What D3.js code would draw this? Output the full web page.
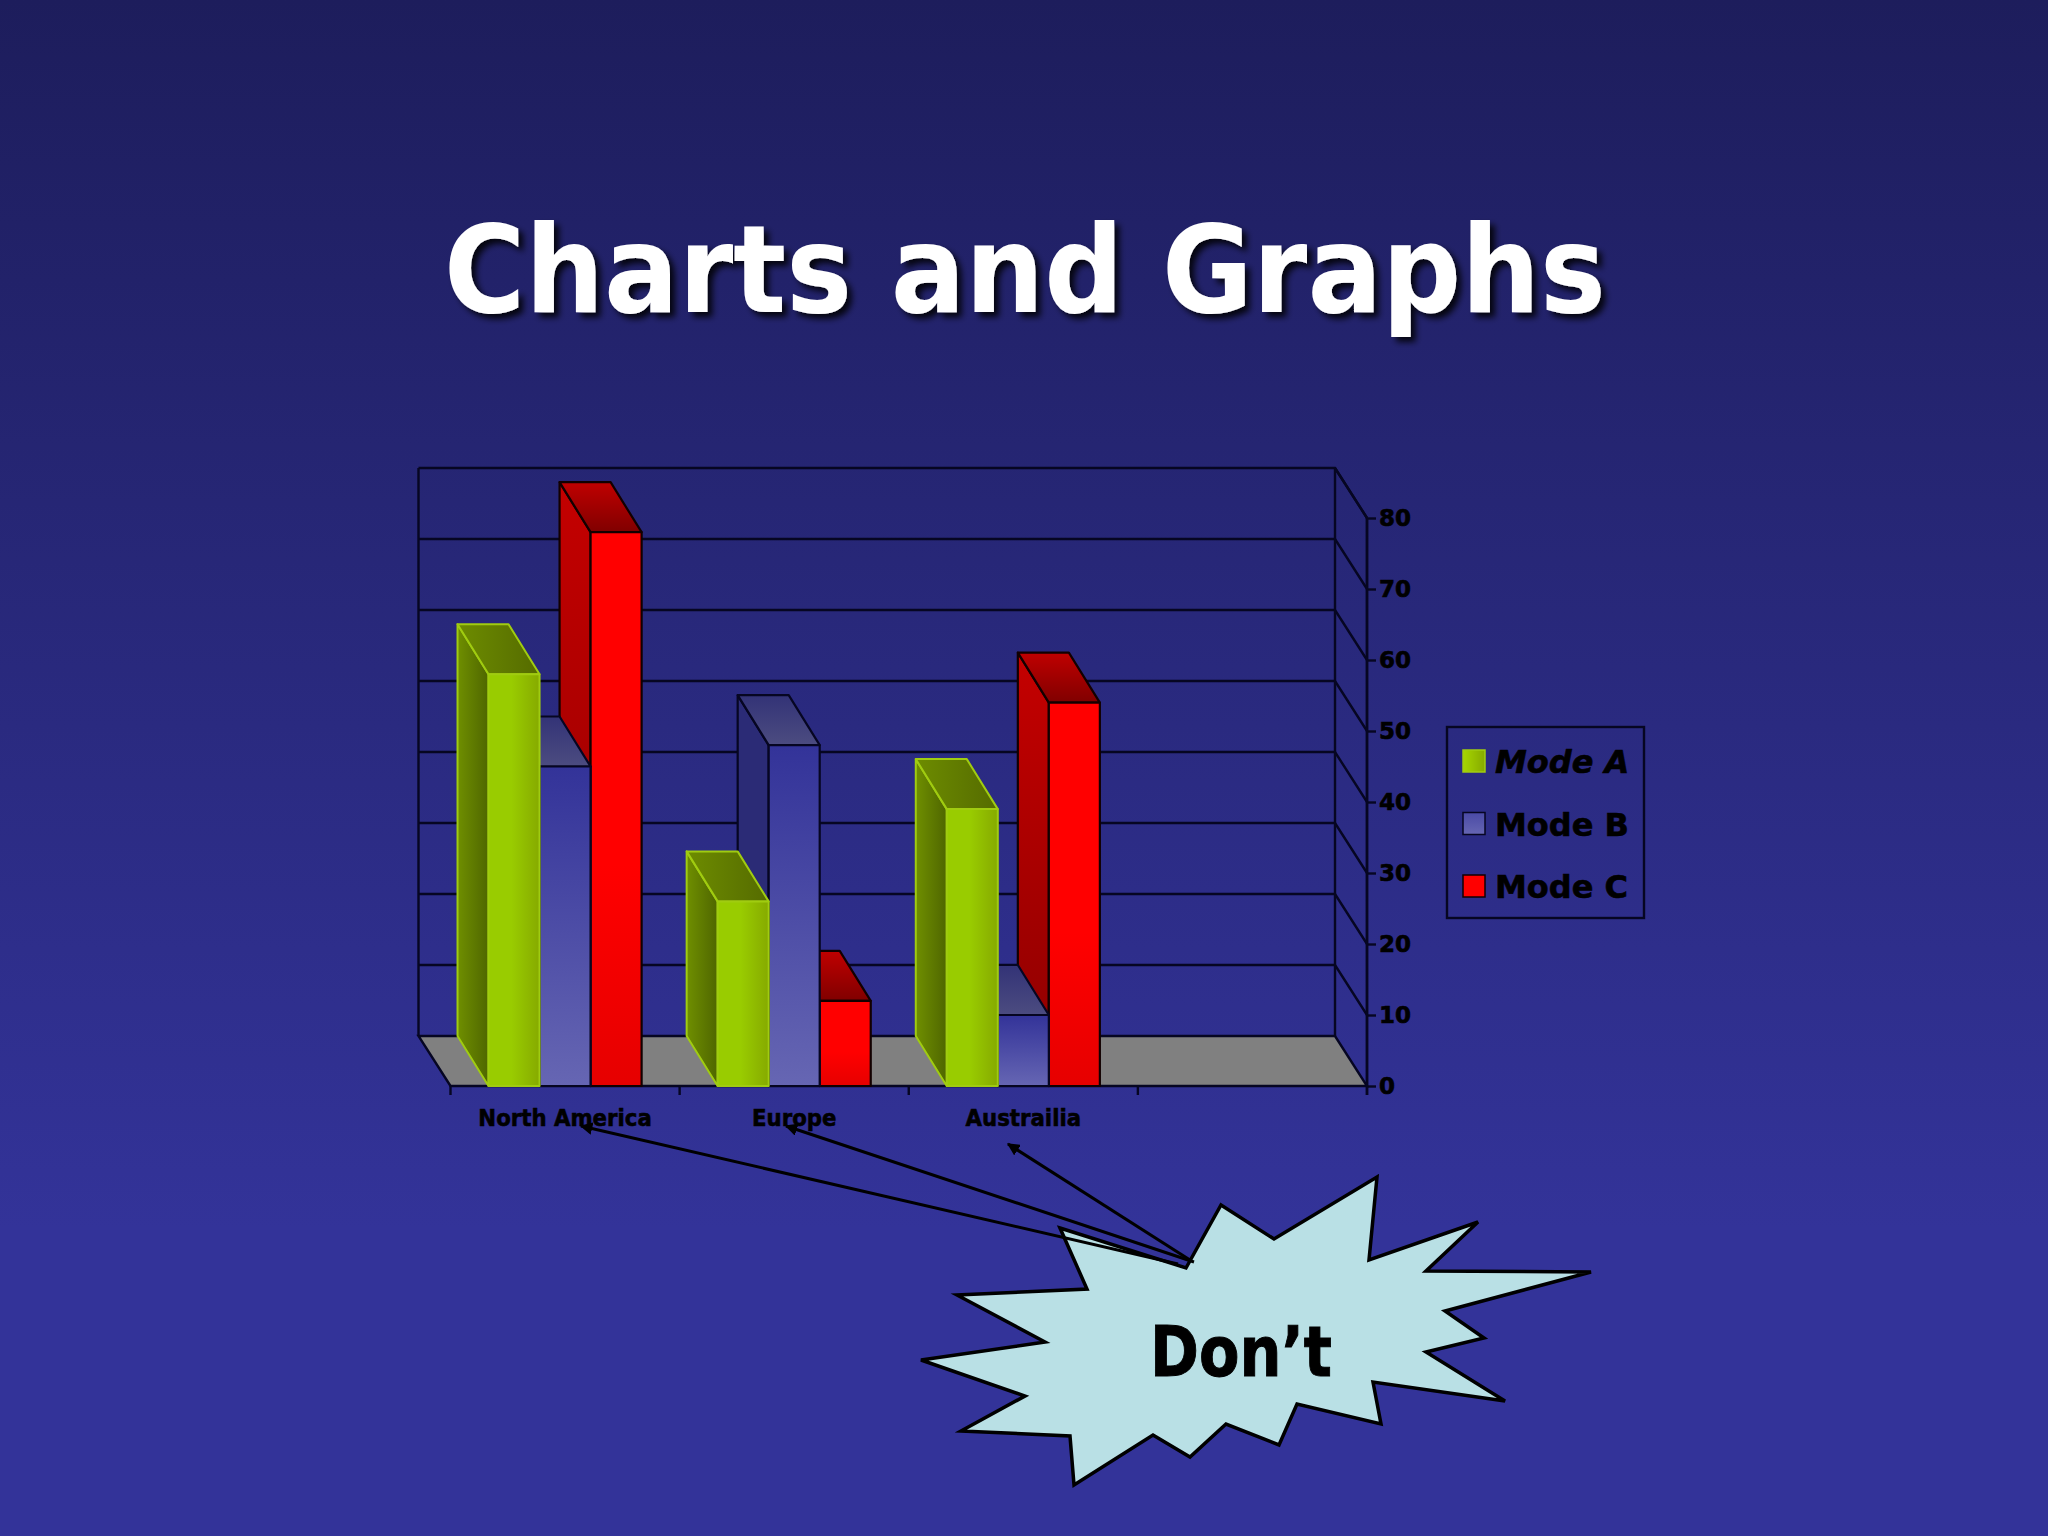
<!DOCTYPE html>
<html><head><meta charset="utf-8">
<script src="https://cdnjs.cloudflare.com/ajax/libs/d3/7.8.5/d3.min.js"></script>
<style>html,body{margin:0;padding:0;background:#26266e}svg{display:block}text{font-family:"DejaVu Sans",Verdana,sans-serif;font-weight:bold}</style>
</head><body><svg id="c" width="2048" height="1536"></svg>
<script>
const categories = ["North America", "Europe", "Austrailia", ""];
const seriesNames = ["Mode A", "Mode B", "Mode C"];
const modeA = [58, 26, 39, null];
const modeB = [45, 48, 10, null];
const modeC = [78, 12, 54, null];
const valueTicks = [0, 10, 20, 30, 40, 50, 60, 70, 80];
const titleText = "Charts and Graphs";
const calloutText = "Don\u2019t";
const burstOutline = [[1060,1228],[1186,1268],[1221,1205],[1274,1239],[1377,1177],[1369,1260],[1478,1222],[1426,1271],[1591,1272],[1445,1311],[1484,1338],[1426,1352],[1505,1401],[1373,1382],[1381,1424],[1297,1404],[1279,1445],[1226,1424],[1190,1457],[1153,1435],[1074,1485],[1070,1436],[961,1431],[1025,1396],[921,1360],[1045,1342],[957,1295],[1087,1289]];
const calloutArrows = [[1178,1264,581,1126],[1194,1262,786,1126],[1190,1260,1008,1144]];

const svg = d3.select("#c");
const defs = svg.append("defs");
function grad(id, stops, x2, y2) {
  const g = defs.append("linearGradient").attr("id", id).attr("x1", 0).attr("y1", 0).attr("x2", x2).attr("y2", y2);
  stops.forEach(s => g.append("stop").attr("offset", s[0]).attr("stop-color", s[1]));
}
grad("bg", [[0,"#1d1d5c"],[0.8,"#333399"],[1,"#333399"]], 0, 1);
grad("gF", [[0,"#99cc00"],[0.45,"#99cc00"],[1,"#86aa00"]], 1, 0);
grad("gS", [[0,"#6f8f00"],[1,"#4f6600"]], 1, 0);
grad("gT", [[0,"#6d8c00"],[1,"#556b00"]], 1, 0);
grad("bF", [[0,"#333399"],[1,"#6666b3"]], 0, 1);
grad("bS", [[0,"#2b2b76"],[1,"#2b2b76"]], 0, 1);
grad("bT", [[0,"#333377"],[1,"#4c4c80"]], 0, 1);
grad("rF", [[0,"#ff0000"],[0.6,"#ff0000"],[1,"#e60000"]], 0, 1);
grad("rS", [[0,"#c40000"],[1,"#8c0000"]], 0, 1);
grad("rT", [[0,"#c00000"],[1,"#800000"]], 0, 1);
grad("swA", [[0,"#a6d600"],[1,"#86aa00"]], 1, 0);
grad("swB", [[0,"#4a4aa6"],[1,"#6666b3"]], 0, 1);
const mk = defs.append("marker").attr("id", "ah").attr("viewBox", "0 0 10 10").attr("refX", 9).attr("refY", 5)
  .attr("markerWidth", 4.2).attr("markerHeight", 4.2).attr("orient", "auto-start-reverse").attr("markerUnits", "strokeWidth");
mk.append("path").attr("d", "M0,0L10,5L0,10Z").attr("fill", "#000");
const sh = defs.append("filter").attr("id", "sh").attr("x", "-5%").attr("y", "-20%").attr("width", "110%").attr("height", "140%");
sh.append("feDropShadow").attr("dx", 5).attr("dy", 5).attr("stdDeviation", 3).attr("flood-color", "#000").attr("flood-opacity", 0.85);

svg.append("rect").attr("width", 2048).attr("height", 1536).attr("fill", "url(#bg)");

const depthX = -32, depthY = -50, barDepthX = -31;
const ink = "#060622";
const x = d3.scaleBand().domain(categories).range([450.5, 1367]);
const y = d3.scaleLinear().domain([0, 80]).range([1086, 518]);
const inner = d3.scaleBand().domain(seriesNames).range([0, x.bandwidth()]).paddingOuter(0.745).paddingInner(0);

const chart = svg.append("g");
const line = d3.line();

const x0 = x.range()[0], x1 = x.range()[1];
valueTicks.forEach(t => {
  if (t > 0) chart.append("path").attr("d", line([[x0 + depthX, y(t) + depthY], [x1 + depthX, y(t) + depthY], [x1, y(t)]]))
    .attr("fill", "none").attr("stroke", ink).attr("stroke-width", 2.4);
});
chart.append("path").attr("d", line([[x0,y(0)],[x1,y(0)],[x1+depthX,y(0)+depthY],[x0+depthX,y(0)+depthY]]) + "Z")
  .attr("fill", "#808080").attr("stroke", ink).attr("stroke-width", 2.4);
chart.append("path").attr("d", line([[x0+depthX,y(0)+depthY],[x0+depthX,y(80)+depthY]])).attr("stroke", ink).attr("stroke-width", 2.4);
chart.append("path").attr("d", line([[x1+depthX,y(0)+depthY],[x1+depthX,y(80)+depthY]])).attr("stroke", ink).attr("stroke-width", 2.4);

const styles = {
  "Mode A": {f:"url(#gF)", s:"url(#gS)", t:"url(#gT)", k:"#a0cc10", w:2},
  "Mode B": {f:"url(#bF)", s:"url(#bS)", t:"url(#bT)", k:ink, w:2.2},
  "Mode C": {f:"url(#rF)", s:"url(#rS)", t:"url(#rT)", k:"#120000", w:2.2}
};
const seriesVals = {"Mode A": modeA, "Mode B": modeB, "Mode C": modeC};
const rows = [];
categories.forEach((c, i) => seriesNames.forEach(s => { if (seriesVals[s][i] != null) rows.push({c, s, v: seriesVals[s][i]}); }));
rows.reverse();
const bars = chart.selectAll("g.bar").data(rows).join("g").attr("class", "bar");
bars.each(function(d) {
  const g = d3.select(this), st = styles[d.s];
  const l = x(d.c) + inner(d.s), r = l + inner.bandwidth(), t = y(d.v), b = y(0);
  const faces = [
    [st.s, [[l,b],[l,t],[l+barDepthX,t+depthY],[l+barDepthX,b+depthY]]],
    [st.t, [[l,t],[r,t],[r+barDepthX,t+depthY],[l+barDepthX,t+depthY]]],
    [st.f, [[l,t],[r,t],[r,b],[l,b]]]
  ];
  faces.forEach(f => g.append("path").attr("d", line(f[1]) + "Z").attr("fill", f[0])
    .attr("stroke", st.k).attr("stroke-width", st.w).attr("stroke-linejoin", "round"));
});

const boldStroke = sel => sel.attr("stroke", "#000").attr("stroke-width", 0.6).attr("paint-order", "stroke");

const yAxis = d3.axisRight(y).tickValues(valueTicks).tickSize(9).tickPadding(3).tickFormat(d3.format("d"));
const ya = chart.append("g").attr("transform", `translate(${x1},0)`).call(yAxis);
ya.select(".domain").remove();
ya.selectAll(".tick line").attr("stroke", ink).attr("stroke-width", 2.4);
ya.selectAll("text").attr("font-size", 23).attr("fill", "#000").attr("font-family", "DejaVu Sans").attr("font-weight", "bold").call(boldStroke);
chart.append("path").attr("d", line([[x1, y(80)], [x1, y(0) + 9]])).attr("stroke", ink).attr("stroke-width", 2.8);
chart.append("path").attr("d", line([[x1+depthX, y(80)+depthY], [x1, y(80)]])).attr("stroke", ink).attr("stroke-width", 2.4);

const xAxis = d3.axisBottom(x).tickSize(0).tickPadding(23);
const xa = chart.append("g").attr("transform", `translate(0,${y(0)})`).call(xAxis);
xa.select(".domain").remove();
xa.selectAll("text").attr("font-size", 23.5).attr("fill", "#000").attr("font-family", "DejaVu Sans").attr("font-weight", "bold").call(boldStroke);
xa.selectAll("text").filter(d => d !== "").each(function() {
  const w = this.getComputedTextLength();
  d3.select(this).attr("textLength", w * 0.905).attr("lengthAdjust", "spacingAndGlyphs");
});
categories.forEach(c => chart.append("path").attr("d", line([[x(c), y(0)], [x(c), y(0) + 9]])).attr("stroke", ink).attr("stroke-width", 2.4));

const lg = svg.append("g");
lg.append("rect").attr("x", 1447).attr("y", 727).attr("width", 197).attr("height", 191).attr("fill", "none").attr("stroke", ink).attr("stroke-width", 2.4);
const lgY = d3.scalePoint().domain(seriesNames).range([762, 887]);
const swatch = {"Mode A":["url(#swA)","#a0cc10"], "Mode B":["url(#swB)",ink], "Mode C":["#ff0000","#120000"]};
seriesNames.forEach((s, i) => {
  lg.append("rect").attr("x", 1463).attr("y", lgY(s) - 12).attr("width", 22).attr("height", 22)
    .attr("fill", swatch[s][0]).attr("stroke", swatch[s][1]).attr("stroke-width", 1.5);
  lg.append("text").attr("x", 1495).attr("y", lgY(s) + 11).attr("font-size", 32).attr("fill", "#000")
    .attr("font-style", i === 0 ? "italic" : "normal").call(boldStroke).text(s);
});

svg.append("text").attr("x", 1025).attr("y", 312).attr("text-anchor", "middle").attr("font-size", 122).attr("fill", "#fff")
  .attr("textLength", 1162).attr("lengthAdjust", "spacingAndGlyphs").attr("filter", "url(#sh)").text(titleText);

svg.append("path").attr("d", line(burstOutline) + "Z").attr("fill", "#b9e0e5").attr("stroke", "#000").attr("stroke-width", 3.5).attr("stroke-linejoin", "miter");
svg.append("text").attr("x", 1241).attr("y", 1376).attr("text-anchor", "middle").attr("font-size", 70).attr("fill", "#000")
  .attr("textLength", 182).attr("lengthAdjust", "spacingAndGlyphs").attr("stroke", "#000").attr("stroke-width", 1).text(calloutText);
calloutArrows.forEach(a => svg.append("line").attr("x1", a[0]).attr("y1", a[1]).attr("x2", a[2]).attr("y2", a[3])
  .attr("stroke", "#000").attr("stroke-width", 3).attr("marker-end", "url(#ah)"));
</script></body></html>
